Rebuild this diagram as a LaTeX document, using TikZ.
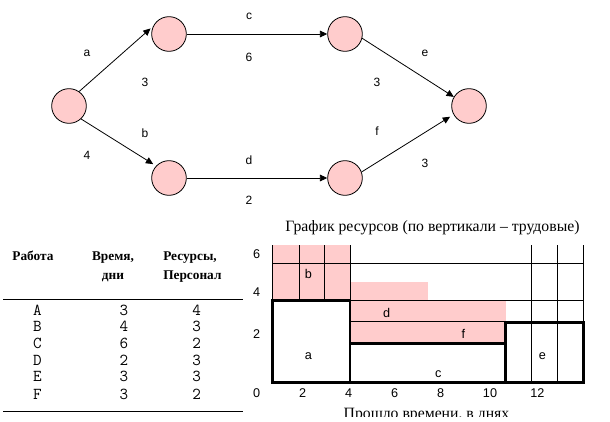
\documentclass[tikz,border=0pt]{standalone}
\usepackage{fontspec}
\setmainfont{Liberation Serif}
\setsansfont{Liberation Sans}
\usetikzlibrary{arrows.meta}
\definecolor{pinkfill}{RGB}{255,204,204}
\begin{document}
\begin{tikzpicture}[x=0.75pt,y=-0.75pt,
  ev/.style={circle,draw,line width=0.6pt,fill=pinkfill,minimum size=26pt,inner sep=0pt},
  lbl/.style={font=\sffamily\fontsize{9}{11}\selectfont,inner sep=0pt},
  arr/.style={-{Triangle[length=5.5pt,width=5pt]},line width=0.6pt},
  hdr/.style={font=\bfseries\fontsize{10}{12}\selectfont,inner sep=0pt,anchor=base},
  val/.style={font=\ttfamily\fontsize{12.5}{14}\selectfont,inner sep=0pt,anchor=base},
  clbl/.style={font=\sffamily\fontsize{9.5}{11}\selectfont,inner sep=0pt},
  thinln/.style={line width=0.75pt},
  thickln/.style={line width=2pt},
  rule/.style={line width=0.9pt}]
\useasboundingbox (0,0) rectangle (610,421);
% ---- network graph ----
\node[ev] (n1) at (69,106) {};
\node[ev] (n2) at (169,34) {};
\node[ev] (n3) at (169,178) {};
\node[ev] (n4) at (345,34) {};
\node[ev] (n5) at (345,178) {};
\node[ev] (n6) at (469,106) {};
\draw[arr,shorten >=2.5pt] (n1.55) -- (n2.154);
\draw[arr,shorten >=2.5pt] (n1.-47) -- (n3.137);
\draw[arr] (n2.east) -- (n4.west);
\draw[arr] (n3.east) -- (n5.west);
\draw[arr] (n4.-14) -- (n6.149);
\draw[arr,shorten >=3pt] (n5.20) -- (n6.209);
\node[lbl] (la) at (87,53) {a};
\node[lbl] (l3a) at (145,82) {3};
\node[lbl] (lb) at (145,133) {b};
\node[lbl] (l4b) at (87,155) {4};
\node[lbl] (lc) at (249,16) {c};
\node[lbl] (l6c) at (249,57) {6};
\node[lbl] (ld) at (249,160) {d};
\node[lbl] (l2d) at (249,200) {2};
\node[lbl] (le) at (425,53) {e};
\node[lbl] (l3e) at (377,82) {3};
\node[lbl] (lf) at (377,131) {f};
\node[lbl] (l3f) at (425,163) {3};
% ---- table ----
\node[hdr] (h1) at (33,260) {Работа};
\node[hdr] (h2a) at (113,260) {Время,};
\node[hdr] (h2b) at (113,279) {дни};
\node[hdr,anchor=base west] (h3a) at (163,260) {Ресурсы,};
\node[hdr,anchor=base west] (h3b) at (163,279) {Персонал};
\draw[rule] (3,299.3) -- (243,299.3);
\draw[rule] (3,411.7) -- (243,411.7);
\foreach \r/\t/\p [count=\i] in {A/3/4,B/4/3,C/6/2,D/2/3,E/3/3} {
  \pgfmathsetmacro{\yy}{315+(\i-1)*16.7}
  \node[val] (r\i a) at (37.3,\yy) {\r};
  \node[val] (r\i b) at (124,\yy) {\t};
  \node[val] (r\i c) at (196.7,\yy) {\p};
}
\node[val] (r6a) at (37.3,399.3) {F};
\node[val] (r6b) at (124,399.3) {3};
\node[val] (r6c) at (196.7,399.3) {2};
% ---- resource chart ----
\fill[pinkfill] (272.3,245) rectangle (350,300);
\fill[pinkfill] (350,281.7) rectangle (427.7,300);
\fill[pinkfill] (350,300) rectangle (505.5,343.3);
\draw[thinln] (272.3,245) -- (272.3,300);
\draw[thinln] (299,245) -- (299,300);
\draw[thinln] (324,245) -- (324,300);
\draw[thinln] (350,245) -- (350,300);
\draw[thinln] (531.7,245) -- (531.7,382.2);
\draw[thinln] (557.3,245) -- (557.3,382.2);
\draw[thinln] (583.3,245) -- (583.3,322.3);
\draw[thinln] (272.3,263.3) -- (583.3,263.3);
\draw[thinln] (350,300) -- (583.3,300);
\draw[thinln] (350,321.7) -- (505.5,321.7);
\draw[thickln] (272.3,300.8) rectangle (350,382.2);
\draw[thickln] (350,343.3) rectangle (505.5,382.2);
\draw[thickln] (505.5,322.3) rectangle (583.3,382.2);
\node[clbl] (cb) at (308.3,274) {b};
\node[clbl] (cd) at (386.7,313.3) {d};
\node[clbl] (cf) at (463.3,334) {f};
\node[clbl] (ca) at (308.3,356) {a};
\node[clbl] (cc) at (438.3,374) {c};
\node[clbl] (ce) at (542.3,356) {e};
\node[clbl] (y6) at (256.7,254.3) {6};
\node[clbl] (y4) at (256.7,291.7) {4};
\node[clbl] (y2) at (256.7,334.3) {2};
\node[clbl] (y0) at (256.7,393.3) {0};
\node[clbl] (x2) at (302.7,393.3) {2};
\node[clbl] (x4) at (348.7,393.3) {4};
\node[clbl] (x6) at (394.7,393.3) {6};
\node[clbl] (x8) at (440.7,393.3) {8};
\node[clbl] (x10) at (490,393.3) {10};
\node[clbl] (x12) at (537.3,393.3) {12};
\node[font=\fontsize{11.8}{14}\selectfont,inner sep=0pt,anchor=base] (title) at (432.5,231) {График ресурсов (по вертикали – трудовые)};
\begin{scope}
\clip (300,400) rectangle (570,416.7);
\node[font=\fontsize{11.8}{14}\selectfont,inner sep=0pt,anchor=base] (xtitle) at (426.5,418.6) {Прошло времени, в днях};
\end{scope}
\end{tikzpicture}
\end{document}
